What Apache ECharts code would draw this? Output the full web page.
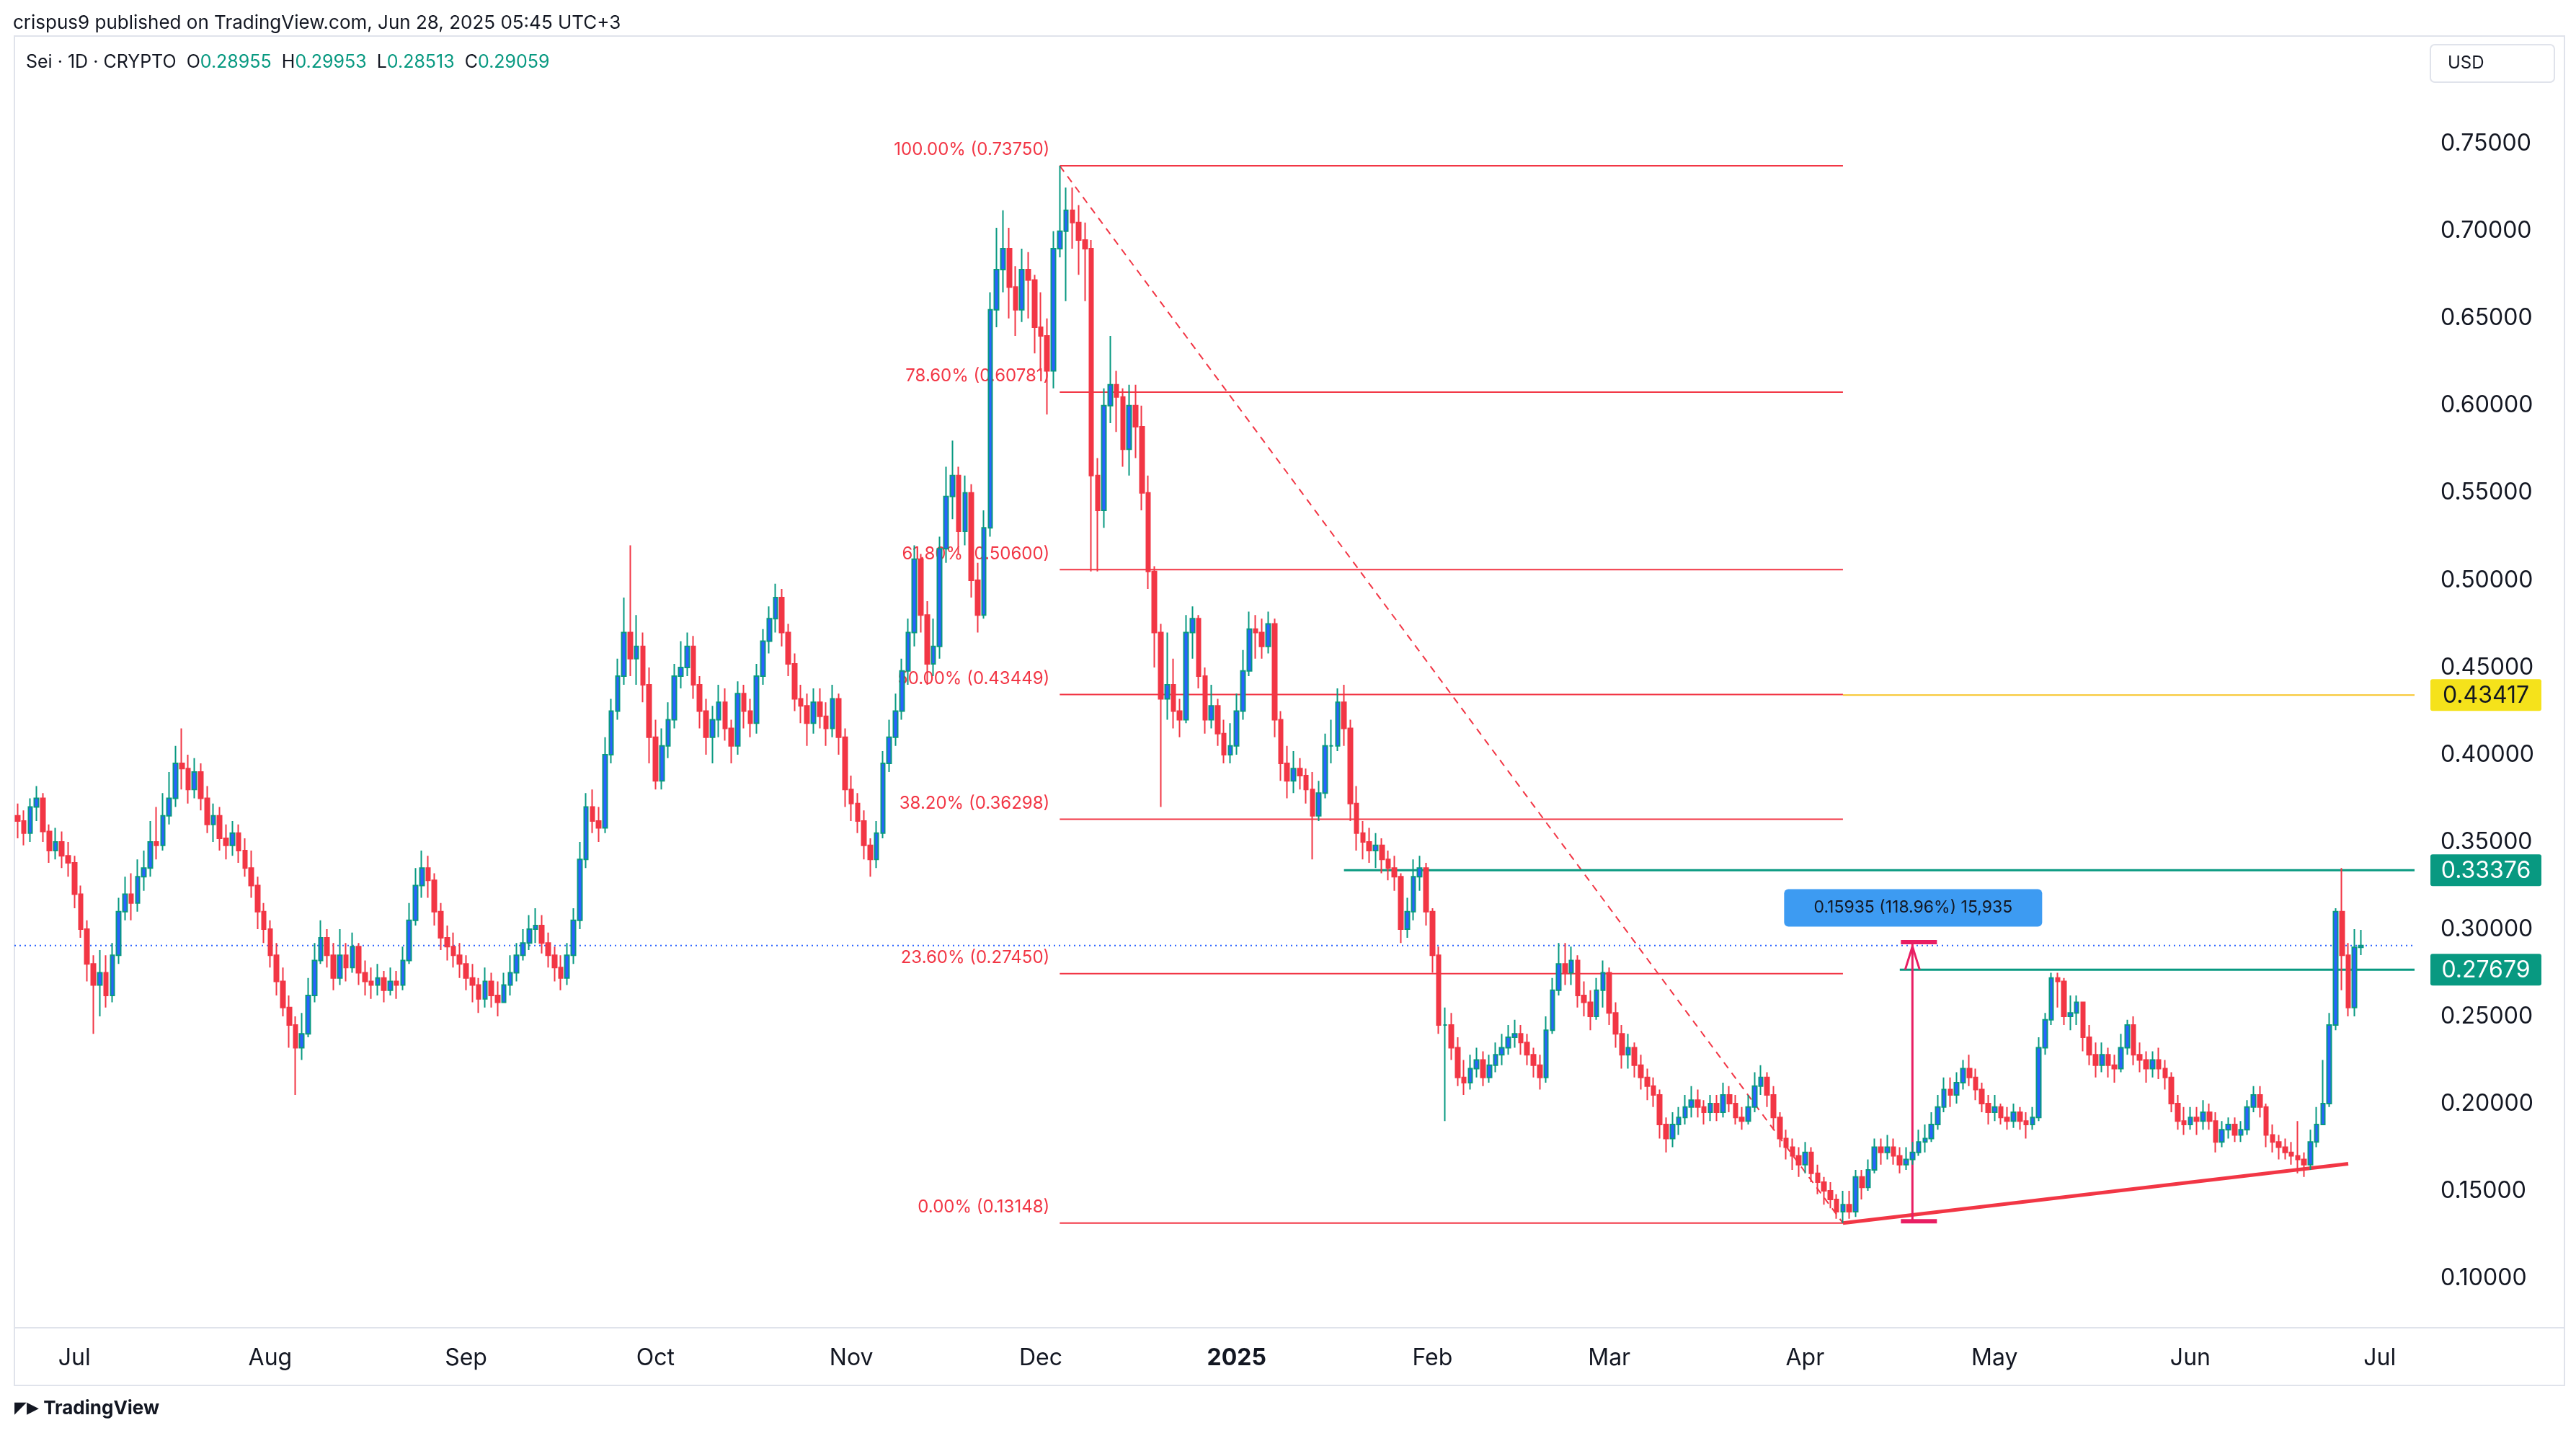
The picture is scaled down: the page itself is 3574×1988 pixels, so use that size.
<!DOCTYPE html>
<html>
<head>
<meta charset="utf-8">
<script src="https://cdn.jsdelivr.net/npm/echarts@6/dist/echarts.min.js"></script>
<style>
html,body{margin:0;padding:0;background:#fff;}
#chart{width:3574px;height:1988px;}
</style>
</head>
<body>
<div id="chart"></div>
<script>
// daily candles, each [close, high, low]; open = previous close
var jun24 = [[0.362,0.372,0.352],[0.355,0.368,0.348],[0.370,0.375,0.350],[0.375,0.382,0.362],[0.356,0.378,0.350],[0.345,0.360,0.338],[0.350,0.358,0.340],[0.342,0.356,0.335],[0.338,0.350,0.330]];
var jul24 = [[0.320,0.342,0.312],[0.300,0.325,0.295],[0.280,0.305,0.270],[0.268,0.285,0.240],[0.275,0.288,0.250],[0.262,0.285,0.255],[0.285,0.292,0.258],[0.310,0.318,0.280],[0.320,0.330,0.305],[0.315,0.332,0.305],[0.330,0.340,0.310],[0.335,0.345,0.322],[0.350,0.362,0.330],[0.348,0.370,0.340],[0.365,0.378,0.345],[0.375,0.390,0.360],[0.395,0.405,0.370],[0.392,0.415,0.380],[0.380,0.400,0.372],[0.390,0.398,0.375],[0.375,0.395,0.368],[0.360,0.382,0.355],[0.365,0.372,0.350],[0.352,0.370,0.345],[0.348,0.360,0.340],[0.355,0.362,0.342],[0.345,0.360,0.338],[0.335,0.352,0.330],[0.325,0.345,0.318],[0.310,0.330,0.300],[0.300,0.315,0.292]];
var aug24 = [[0.285,0.305,0.278],[0.270,0.292,0.262],[0.255,0.278,0.250],[0.245,0.262,0.232],[0.232,0.250,0.205],[0.240,0.252,0.225],[0.262,0.272,0.238],[0.282,0.292,0.258],[0.295,0.305,0.280],[0.285,0.300,0.278],[0.272,0.292,0.265],[0.285,0.300,0.268],[0.278,0.292,0.270],[0.290,0.298,0.275],[0.275,0.292,0.268],[0.270,0.282,0.262],[0.268,0.278,0.260],[0.272,0.280,0.262],[0.265,0.276,0.258],[0.270,0.278,0.262],[0.268,0.276,0.260],[0.282,0.290,0.265],[0.305,0.315,0.280],[0.325,0.335,0.302],[0.335,0.345,0.318],[0.328,0.342,0.318],[0.310,0.332,0.302],[0.295,0.315,0.288],[0.290,0.302,0.282],[0.285,0.298,0.278],[0.280,0.292,0.272]];
var sep24 = [[0.272,0.285,0.265],[0.268,0.280,0.258],[0.260,0.272,0.252],[0.270,0.278,0.255],[0.262,0.275,0.255],[0.258,0.270,0.250],[0.268,0.275,0.258],[0.275,0.285,0.262],[0.285,0.292,0.270],[0.292,0.300,0.282],[0.300,0.308,0.288],[0.302,0.312,0.292],[0.292,0.308,0.286],[0.285,0.298,0.278],[0.278,0.290,0.270],[0.272,0.285,0.265],[0.285,0.292,0.268],[0.305,0.312,0.280],[0.340,0.350,0.300],[0.370,0.378,0.335],[0.362,0.380,0.355],[0.358,0.370,0.350],[0.400,0.410,0.355],[0.425,0.432,0.395],[0.445,0.455,0.420],[0.470,0.490,0.440],[0.455,0.520,0.445],[0.462,0.480,0.440],[0.440,0.470,0.430],[0.410,0.450,0.395]];
var oct24 = [[0.385,0.420,0.380],[0.405,0.415,0.380],[0.420,0.430,0.398],[0.445,0.452,0.415],[0.450,0.465,0.438],[0.462,0.470,0.445],[0.440,0.468,0.432],[0.425,0.445,0.415],[0.410,0.432,0.400],[0.420,0.428,0.395],[0.430,0.440,0.410],[0.415,0.438,0.408],[0.405,0.420,0.395],[0.435,0.442,0.400],[0.425,0.440,0.415],[0.418,0.432,0.410],[0.445,0.452,0.412],[0.465,0.472,0.440],[0.478,0.485,0.458],[0.490,0.498,0.470],[0.470,0.495,0.462],[0.452,0.475,0.445],[0.432,0.458,0.425],[0.428,0.440,0.418],[0.418,0.435,0.405],[0.430,0.438,0.412],[0.422,0.438,0.415],[0.415,0.430,0.405],[0.432,0.440,0.410],[0.410,0.435,0.400],[0.380,0.415,0.370]];
var nov24 = [[0.372,0.388,0.362],[0.362,0.378,0.355],[0.348,0.368,0.340],[0.340,0.352,0.330],[0.355,0.362,0.335],[0.395,0.402,0.352],[0.410,0.420,0.390],[0.425,0.435,0.405],[0.448,0.455,0.420],[0.470,0.478,0.440],[0.512,0.520,0.462],[0.480,0.515,0.470],[0.452,0.488,0.440],[0.462,0.478,0.445],[0.518,0.525,0.455],[0.548,0.565,0.510],[0.560,0.580,0.535],[0.528,0.565,0.515],[0.550,0.560,0.520],[0.500,0.555,0.490],[0.480,0.510,0.470],[0.530,0.540,0.478],[0.655,0.665,0.525],[0.678,0.702,0.645],[0.690,0.712,0.665],[0.668,0.702,0.650],[0.655,0.680,0.640],[0.678,0.690,0.648],[0.672,0.688,0.650],[0.645,0.675,0.630]];
var dec24 = [[0.640,0.665,0.620],[0.620,0.650,0.595],[0.690,0.700,0.610],[0.700,0.7375,0.685],[0.712,0.725,0.660],[0.705,0.725,0.690],[0.695,0.715,0.675],[0.690,0.705,0.660],[0.560,0.695,0.505],[0.540,0.570,0.505],[0.600,0.610,0.530],[0.612,0.640,0.590],[0.605,0.620,0.585],[0.575,0.610,0.565],[0.600,0.612,0.560],[0.588,0.612,0.570],[0.550,0.600,0.540],[0.505,0.560,0.495],[0.470,0.508,0.450],[0.432,0.475,0.370],[0.440,0.470,0.420],[0.425,0.455,0.415],[0.420,0.432,0.410],[0.470,0.480,0.418],[0.478,0.485,0.455],[0.445,0.480,0.438],[0.420,0.450,0.412],[0.428,0.440,0.415],[0.412,0.432,0.405],[0.400,0.420,0.395],[0.405,0.418,0.395]];
var jan25 = [[0.425,0.435,0.400],[0.448,0.460,0.420],[0.472,0.482,0.445],[0.470,0.480,0.455],[0.462,0.478,0.455],[0.475,0.482,0.458],[0.420,0.478,0.410],[0.395,0.425,0.385],[0.385,0.405,0.375],[0.392,0.402,0.378],[0.388,0.398,0.380],[0.380,0.392,0.372],[0.365,0.390,0.340],[0.378,0.385,0.362],[0.405,0.412,0.375],[0.405,0.420,0.395],[0.430,0.438,0.402],[0.415,0.440,0.405],[0.372,0.420,0.362],[0.355,0.382,0.345],[0.350,0.362,0.340],[0.345,0.358,0.338],[0.348,0.355,0.335],[0.340,0.352,0.332],[0.335,0.345,0.328],[0.330,0.342,0.322],[0.300,0.332,0.292],[0.310,0.318,0.295],[0.330,0.340,0.305],[0.335,0.342,0.322],[0.310,0.338,0.302]];
var feb25 = [[0.285,0.312,0.275],[0.245,0.290,0.240],[0.245,0.255,0.190],[0.232,0.252,0.225],[0.215,0.238,0.210],[0.212,0.225,0.205],[0.220,0.228,0.208],[0.225,0.232,0.215],[0.215,0.230,0.210],[0.222,0.228,0.212],[0.228,0.235,0.218],[0.232,0.240,0.222],[0.238,0.245,0.228],[0.240,0.248,0.232],[0.235,0.245,0.228],[0.228,0.240,0.222],[0.222,0.232,0.215],[0.215,0.228,0.208],[0.242,0.250,0.212],[0.265,0.272,0.240],[0.280,0.292,0.262],[0.275,0.292,0.268],[0.282,0.290,0.268],[0.262,0.285,0.255],[0.258,0.270,0.250],[0.250,0.265,0.242],[0.265,0.272,0.248],[0.275,0.282,0.255]];
var mar25 = [[0.252,0.278,0.245],[0.240,0.258,0.232],[0.228,0.245,0.220],[0.232,0.240,0.220],[0.222,0.235,0.215],[0.215,0.228,0.208],[0.210,0.220,0.202],[0.205,0.215,0.198],[0.188,0.208,0.180],[0.180,0.192,0.172],[0.188,0.195,0.175],[0.192,0.198,0.182],[0.198,0.205,0.188],[0.202,0.210,0.192],[0.198,0.208,0.192],[0.195,0.202,0.188],[0.200,0.205,0.190],[0.195,0.205,0.190],[0.205,0.212,0.192],[0.200,0.210,0.195],[0.192,0.205,0.188],[0.190,0.198,0.185],[0.198,0.205,0.188],[0.210,0.218,0.195],[0.215,0.222,0.205],[0.205,0.218,0.198],[0.192,0.210,0.185],[0.180,0.195,0.175],[0.175,0.185,0.168],[0.170,0.180,0.162],[0.165,0.175,0.158]];
var apr25 = [[0.172,0.178,0.160],[0.160,0.175,0.155],[0.155,0.165,0.148],[0.150,0.158,0.142],[0.145,0.155,0.140],[0.138,0.148,0.134],[0.142,0.150,0.1315],[0.138,0.150,0.134],[0.158,0.162,0.135],[0.152,0.162,0.145],[0.162,0.168,0.150],[0.175,0.180,0.160],[0.172,0.180,0.165],[0.175,0.182,0.168],[0.170,0.180,0.165],[0.165,0.175,0.160],[0.168,0.175,0.162],[0.172,0.178,0.165],[0.178,0.185,0.170],[0.180,0.188,0.172],[0.188,0.195,0.178],[0.198,0.205,0.185],[0.208,0.215,0.195],[0.205,0.215,0.198],[0.212,0.218,0.200],[0.220,0.225,0.208],[0.215,0.228,0.210],[0.208,0.220,0.202],[0.200,0.212,0.195],[0.195,0.205,0.188]];
var may25 = [[0.198,0.205,0.190],[0.192,0.200,0.188],[0.190,0.198,0.185],[0.195,0.200,0.186],[0.190,0.198,0.185],[0.188,0.195,0.180],[0.192,0.198,0.185],[0.232,0.238,0.190],[0.248,0.252,0.228],[0.272,0.275,0.245],[0.270,0.275,0.255],[0.250,0.272,0.245],[0.252,0.262,0.242],[0.258,0.262,0.245],[0.238,0.258,0.230],[0.228,0.245,0.222],[0.222,0.235,0.215],[0.228,0.235,0.218],[0.222,0.232,0.215],[0.220,0.228,0.212],[0.232,0.240,0.218],[0.245,0.248,0.228],[0.228,0.250,0.222],[0.225,0.235,0.218],[0.220,0.230,0.212],[0.225,0.230,0.215],[0.220,0.232,0.214],[0.215,0.225,0.208],[0.200,0.218,0.195],[0.190,0.205,0.185],[0.188,0.198,0.182]];
var jun25 = [[0.192,0.198,0.185],[0.190,0.198,0.182],[0.195,0.202,0.185],[0.190,0.200,0.185],[0.178,0.195,0.172],[0.185,0.190,0.175],[0.188,0.192,0.180],[0.182,0.192,0.178],[0.185,0.190,0.178],[0.198,0.202,0.182],[0.205,0.210,0.195],[0.198,0.210,0.192],[0.182,0.200,0.175],[0.178,0.188,0.172],[0.175,0.182,0.168],[0.172,0.180,0.168],[0.170,0.178,0.165],[0.168,0.190,0.160],[0.165,0.172,0.158],[0.178,0.185,0.162],[0.188,0.198,0.175],[0.200,0.225,0.195],[0.245,0.252,0.198],[0.310,0.312,0.242],[0.285,0.335,0.265],[0.255,0.292,0.250],[0.28955,0.300,0.250],[0.29059,0.29953,0.28513]];
var firstOpen = 0.365;
var startDate = '2024-06-22';
var padDays = 8;

var fibLevels = ['100.00%','78.60%','61.80%','50.00%','38.20%','23.60%','0.00%'];
var fibValues = [0.73750,0.60781,0.50600,0.43449,0.36298,0.27450,0.13148];
var priceTicks = [0.10,0.15,0.20,0.25,0.30,0.35,0.40,0.45,0.50,0.55,0.60,0.65,0.70,0.75];
var monthNames = ['Jan','Feb','Mar','Apr','May','Jun','Jul','Aug','Sep','Oct','Nov','Dec'];

var rows = [].concat(jun24,jul24,aug24,sep24,oct24,nov24,dec24,jan25,feb25,mar25,apr25,may25,jun25);
var dates = [], ohlc = [];
var d0 = new Date(startDate+'T00:00:00Z');
function fmt(d){return d.toISOString().slice(0,10);}
var prev = firstOpen;
for(var i=0;i<rows.length+padDays;i++){
	var d = new Date(d0.getTime()+i*86400000);
	dates.push(fmt(d));
	if(i<rows.length){
		var r = rows[i];
		var o = prev, c = r[0];
		ohlc.push([o,c,Math.min(r[2],o,c),Math.max(r[1],o,c)]);
		prev = c;
	}
}
var lastClose = prev;

var red = '#f23645', green = '#089981', blue = '#2962ff';
var chart = echarts.init(document.getElementById('chart'));
chart.setOption({
	backgroundColor:'#ffffff',
	animation:false,
	grid:{left:20,right:224,top:57,bottom:146},
	xAxis:{
		type:'category',data:dates,boundaryGap:true,
		axisLine:{show:false},axisTick:{show:false},splitLine:{show:false},
		axisLabel:{
			margin:26,fontSize:32,color:'#131722',fontFamily:'Inter',
			interval:function(i,v){return v.slice(8)==='01';},
			formatter:function(v){
				var m = +v.slice(5,7);
				if(m===1) return '{b|'+v.slice(0,4)+'}';
				return monthNames[m-1];
			},
			rich:{b:{fontSize:32,fontWeight:'bold',color:'#131722',fontFamily:'Inter'}}
		}
	},
	yAxis:{
		type:'value',position:'right',min:0.0715,max:0.809,scale:true,
		axisLine:{show:false},axisTick:{show:false},splitLine:{show:false},
		axisLabel:{customValues:priceTicks,margin:36,fontSize:32,color:'#131722',fontFamily:'Inter',
			formatter:function(v){return v.toFixed(5);}}
	},
	series:[{
		type:'candlestick',data:ohlc,barWidth:'70%',
		itemStyle:{color:blue,color0:red,borderColor:green,borderColor0:red,borderWidth:2}
	}]
});

function px(date,val){return chart.convertToPixel({xAxisIndex:0,yAxisIndex:0},[date,val]);}
var gl = [];
var R = 3574-224;
// frame lines
gl.push({type:'rect',shape:{x:20,y:50,width:3538,height:1872},style:{fill:'none',stroke:'#e0e3eb',lineWidth:2},silent:true});
gl.push({type:'line',shape:{x1:20,y1:1842,x2:3558,y2:1842},style:{stroke:'#e0e3eb',lineWidth:2}});
// current price dotted line
var cp = px(dates[0],lastClose);
gl.push({type:'line',shape:{x1:20,y1:cp[1],x2:R,y2:cp[1]},style:{stroke:blue,lineWidth:2,lineDash:[2,5]}});
// fib levels
var fibA='2024-12-04', fibB='2025-04-07';
fibValues.forEach(function(v,k){
	var a = px(fibA,v), b = px(fibB,v);
	gl.push({type:'line',shape:{x1:a[0],y1:a[1],x2:b[0],y2:b[1]},style:{stroke:red,lineWidth:2}});
	gl.push({type:'text',x:a[0]-14,y:a[1]-22,style:{text:fibLevels[k]+' ('+v.toFixed(5)+')',fill:red,fontSize:24,fontFamily:'Inter',align:'right',verticalAlign:'middle'}});
});
// yellow extension of 50%
var y2 = px(fibB,0.43417);
gl.push({type:'line',shape:{x1:y2[0],y1:y2[1],x2:R,y2:y2[1]},style:{stroke:'#f7c325',lineWidth:2}});
// diagonal dashed
var dA = px('2024-12-04',0.7375), dB = px('2025-04-07',0.1315);
gl.push({type:'line',shape:{x1:dA[0],y1:dA[1],x2:dB[0],y2:dB[1]},style:{stroke:red,lineWidth:2,lineDash:[10,8]}});
// green horizontals
var g1 = px('2025-01-18',0.33376), g2 = px('2025-04-16',0.27679);
gl.push({type:'line',shape:{x1:g1[0],y1:g1[1],x2:R,y2:g1[1]},style:{stroke:green,lineWidth:3}});
gl.push({type:'line',shape:{x1:g2[0],y1:g2[1],x2:R,y2:g2[1]},style:{stroke:green,lineWidth:3}});
// rising support line
var s1 = px('2025-04-07',0.1315), s2 = px('2025-06-26',0.1655);
gl.push({type:'line',shape:{x1:s1[0],y1:s1[1],x2:s2[0],y2:s2[1]},style:{stroke:red,lineWidth:5}});
// measure arrow
var m1 = px('2025-04-18',0.1325), m2 = px('2025-04-18',0.2925);
var pink = '#e91e63';
gl.push({type:'line',shape:{x1:m1[0],y1:m1[1],x2:m2[0],y2:m2[1]},style:{stroke:pink,lineWidth:3}});
gl.push({type:'line',shape:{x1:m1[0]-16,y1:m1[1],x2:m1[0]+34,y2:m1[1]},style:{stroke:pink,lineWidth:6}});
gl.push({type:'line',shape:{x1:m2[0]-16,y1:m2[1],x2:m2[0]+34,y2:m2[1]},style:{stroke:pink,lineWidth:6}});
gl.push({type:'polyline',shape:{points:[[m2[0]-10,m2[1]+38],[m2[0],m2[1]+6],[m2[0]+10,m2[1]+38]]},style:{stroke:pink,lineWidth:3,fill:'none'}});
var lb = px('2025-04-18',0.313);
gl.push({type:'rect',shape:{x:lb[0]-178,y:lb[1]-24,width:358,height:52,r:6},style:{fill:'#3d9bf2'}});
gl.push({type:'text',x:lb[0]+1,y:lb[1]+2,style:{text:'0.15935 (118.96%) 15,935',fill:'#131722',fontSize:23,fontFamily:'Inter',align:'center',verticalAlign:'middle'}});
// right price tags
function tag(v,bg,fg){
	var p = px(dates[0],v);
	gl.push({type:'rect',shape:{x:3372,y:p[1]-22,width:154,height:44,r:3},style:{fill:bg}});
	gl.push({type:'text',x:3449,y:p[1]+1,style:{text:v.toFixed(5),fill:fg,fontSize:32,fontFamily:'Inter',align:'center',verticalAlign:'middle'}});
}
tag(0.43417,'#f5e21b','#131722');
tag(0.33376,green,'#ffffff');
tag(0.27679,green,'#ffffff');
// header
gl.push({type:'text',x:18,y:32,style:{text:'crispus9 published on TradingView.com, Jun 28, 2025 05:45 UTC+3',fill:'#131722',fontSize:26,fontFamily:'Inter',verticalAlign:'middle'}});
gl.push({type:'text',x:36,y:86,style:{text:'{k|Sei · 1D · CRYPTO  O}{g|0.28955}{k|  H}{g|0.29953}{k|  L}{g|0.28513}{k|  C}{g|0.29059}',fontSize:25,fontFamily:'Inter',verticalAlign:'middle',
	rich:{k:{fill:'#131722',fontSize:25,fontFamily:'Inter'},g:{fill:green,fontSize:25,fontFamily:'Inter'}}}});
gl.push({type:'rect',shape:{x:3372,y:62,width:172,height:52,r:6},style:{fill:'#fff',stroke:'#e0e3eb',lineWidth:2}});
gl.push({type:'text',x:3396,y:88,style:{text:'USD',fill:'#131722',fontSize:24,fontFamily:'Inter',verticalAlign:'middle'}});
// footer logo
gl.push({type:'text',x:20,y:1954,style:{text:'{l|◤▶} TradingView',fill:'#131722',fontSize:26,fontWeight:'bold',fontFamily:'Inter',verticalAlign:'middle',rich:{l:{fontSize:22,fill:'#131722'}}}});
chart.setOption({graphic:{elements:gl}});
</script>
</body>
</html>
